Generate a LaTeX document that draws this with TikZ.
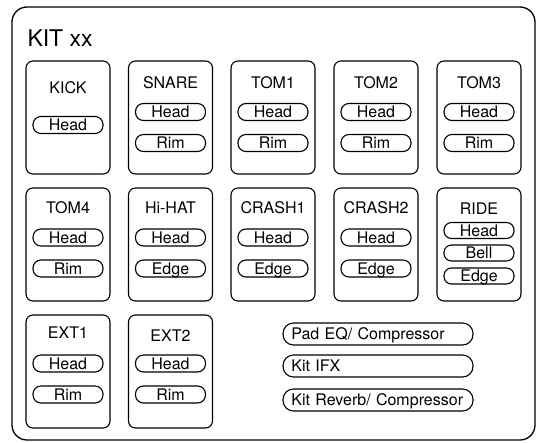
\documentclass[tikz,border=0pt]{standalone}
\usepackage{fontspec}
\setmainfont{TeX Gyre Heros}
\tikzstyle{frame}=[draw=black, rounded corners=15pt, line width=1.3pt, minimum width=523pt, minimum height=433pt]
\tikzstyle{pad}=[draw=black, rounded corners=7pt, line width=1.1pt, minimum width=84pt, minimum height=113pt]
\tikzstyle{padname}=[font=\fontsize{16}{19}\selectfont, text height=11.5pt, text depth=0pt, inner sep=0pt]
\tikzstyle{zone}=[draw=black, rounded corners=8pt, line width=1.1pt, minimum width=70pt, minimum height=17pt, inner sep=0pt, font=\fontsize{16}{19}\selectfont, text height=11.5pt, text depth=0pt]
\tikzstyle{smallzone}=[zone, minimum height=16pt, rounded corners=7.5pt]
\tikzstyle{fxbar}=[draw=black, rounded corners=10.5pt, line width=1.1pt, minimum height=22pt, text width=173.2pt, align=left, inner xsep=8.4pt, inner ysep=0pt, font=\fontsize{16}{19}\selectfont, text height=11.5pt, text depth=0pt]

\begin{document}
\begin{tikzpicture}[x=1pt, y=-1pt]
            \useasboundingbox (0,0) rectangle (537,442);
            \node[frame] (kit) at (273.5,223.5) {};
            \node[anchor=base west, inner sep=0pt, font=\fontsize{23}{28}\selectfont] (title) at (27.3,46.7) {KIT xx};
            % first row
            \node[pad] (kick) at (68,117.5) {};
            \node[pad] (snare) at (170.5,117.5) {};
            \node[pad] (tom1) at (273,117.5) {};
            \node[pad] (tom2) at (376,117.5) {};
            \node[pad] (tom3) at (479,117.5) {};
            \node[padname] (kickname) at (68,88) {KICK};
            \node[padname] (snarename) at (170.5,83) {SNARE};
            \node[padname] (tom1name) at (273,83) {TOM1};
            \node[padname] (tom2name) at (376,83) {TOM2};
            \node[padname] (tom3name) at (479,83) {TOM3};
            \node[zone] (kickhead) at (68,125) {Head};
            \node[zone] (snarehead) at (170.5,112) {Head};
            \node[zone] (snarerim) at (170.5,143) {Rim};
            \node[zone] (tom1head) at (273,112) {Head};
            \node[zone] (tom1rim) at (273,143) {Rim};
            \node[zone] (tom2head) at (376,112) {Head};
            \node[zone] (tom2rim) at (376,143) {Rim};
            \node[zone] (tom3head) at (479,112) {Head};
            \node[zone] (tom3rim) at (479,143) {Rim};
            % second row
            \node[pad] (tom4) at (68,244.5) {};
            \node[pad] (hihat) at (170.5,244.5) {};
            \node[pad] (crash1) at (273,244.5) {};
            \node[pad] (crash2) at (376,244.5) {};
            \node[pad] (ride) at (479,244.5) {};
            \node[padname] (tom4name) at (68,208) {TOM4};
            \node[padname] (hihatname) at (170.5,208) {Hi-HAT};
            \node[padname] (crash1name) at (273,208) {CRASH1};
            \node[padname] (crash2name) at (376,208) {CRASH2};
            \node[padname] (ridename) at (479,209) {RIDE};
            \node[zone] (tom4head) at (68,237.5) {Head};
            \node[zone] (tom4rim) at (68,268.5) {Rim};
            \node[zone] (hihathead) at (170.5,237.5) {Head};
            \node[zone] (hihatedge) at (170.5,268.5) {Edge};
            \node[zone] (crash1head) at (273,237.5) {Head};
            \node[zone] (crash1edge) at (273,268.5) {Edge};
            \node[zone] (crash2head) at (376,237.5) {Head};
            \node[zone] (crash2edge) at (376,268.5) {Edge};
            \node[smallzone] (ridehead) at (479,230.5) {Head};
            \node[smallzone] (ridebell) at (479,253) {Bell};
            \node[smallzone] (rideedge) at (479,276) {Edge};
            % third row
            \node[pad] (ext1) at (68,371.5) {};
            \node[pad] (ext2) at (170.5,371.5) {};
            \node[padname] (ext1name) at (68,333) {EXT1};
            \node[padname] (ext2name) at (170.5,336) {EXT2};
            \node[zone] (ext1head) at (68,363.5) {Head};
            \node[zone] (ext1rim) at (68,394.5) {Rim};
            \node[zone] (ext2head) at (170.5,363.5) {Head};
            \node[zone] (ext2rim) at (170.5,394.5) {Rim};
            % effects
            \node[fxbar] (padeq) at (378,334) {Pad EQ/ Compressor};
            \node[fxbar] (kitifx) at (378,366) {Kit IFX};
            \node[fxbar] (kitreverb) at (378,400) {Kit Reverb/ Compressor};
\end{tikzpicture}
\end{document}
